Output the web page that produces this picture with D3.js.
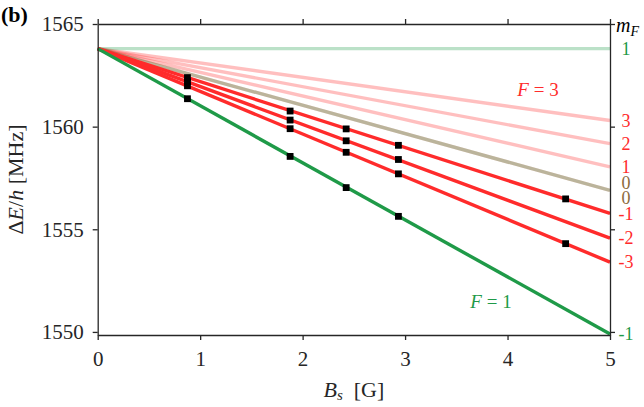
<!DOCTYPE html>
<html>
<head>
<meta charset="utf-8">
<script src="https://cdn.jsdelivr.net/npm/d3@7"></script>
<style>
  html, body { margin: 0; padding: 0; background: #fff; }
  svg { display: block; font-family: "Liberation Serif", "DejaVu Serif", serif; }
</style>
</head>
<body>
<div id="chart"></div>
<script>
// --- data ---
const xTicks = [0, 1, 2, 3, 4, 5];
const yTicks = [1550, 1555, 1560, 1565];

// Zeeman lines: all start at the zero-field splitting, straight to B = 5 G
const lineStartE = 1563.8;
const lineB = [0, 5];
const lineF = [3, 3, 3, 3, 1, 1, 3, 3, 3, 1];
const lineMF = ["3", "2", "1", "0", "1", "0", "-1", "-2", "-3", "-1"];
const lineEndE = [1560.3, 1559.17, 1558.04, 1556.9, 1563.8, 1556.9, 1555.77, 1554.57, 1553.4, 1549.9];
const lineFaint = [true, true, true, true, true, true, false, false, false, false];
const labelShift = [0, 0, 0, -7.5, 0, 7.5, 0, 0, 0, 0]; // the two overlapping 0 labels

// measured transitions (black squares)
const pointB = [0.876, 0.876, 0.876, 0.876, 1.878, 1.878, 1.878, 1.878,
                2.425, 2.425, 2.425, 2.425, 2.935, 2.935, 2.935, 2.935, 4.567, 4.567];
const pointE = [1562.39, 1562.19, 1561.99, 1561.36, 1560.76, 1560.32, 1559.9, 1558.55,
                1559.89, 1559.31, 1558.75, 1557.03, 1559.09, 1558.4, 1557.7, 1555.63, 1556.48, 1554.3];

// --- colours ---
const RED = "#ff2b2b";
const GREEN = "#1f9a48";
const BROWN = "#8c6a3c";
const AXIS = "#262626";

const W = 644, H = 407;
const mLeft = 97.7, mRight = 610, mTop = 24, mBottom = 335;

const x = d3.scaleLinear().domain([0, 5]).range([mLeft, mRight]);
const y = d3.scaleLinear().domain([1549.85, 1565]).range([mBottom, mTop]);

const svg = d3.select("#chart").append("svg")
  .attr("width", W).attr("height", H)
  .attr("viewBox", `0 0 ${W} ${H}`);

// --- lines ---
const lines = lineF.map((F, i) => ({
  F, mF: lineMF[i], faint: lineFaint[i], shift: labelShift[i],
  pts: [[lineB[0], lineStartE], [lineB[1], lineEndE[i]]]
}));
const lineGen = d3.line().x(d => x(d[0])).y(d => y(d[1]));

// faint red first, faint green over it (gives the tan overlap at mF = 0), then solid ones
const drawOrder = lines.filter(d => d.faint && d.F === 3)
  .concat(lines.filter(d => d.faint && d.F === 1))
  .concat(lines.filter(d => !d.faint));

svg.append("g")
  .selectAll("path")
  .data(drawOrder)
  .enter()
  .append("path")
  .attr("d", d => lineGen(d.pts))
  .attr("fill", "none")
  .attr("stroke", d => d.F === 3 ? RED : GREEN)
  .attr("stroke-opacity", d => d.faint ? 0.3 : 1)
  .attr("stroke-width", 3.4);

// --- measured points ---
const pts = pointB.map((b, i) => [b, pointE[i]]);
svg.append("g")
  .selectAll("rect")
  .data(pts)
  .enter()
  .append("rect")
  .attr("x", d => x(d[0]) - 3.4)
  .attr("y", d => y(d[1]) - 3.4)
  .attr("width", 6.8)
  .attr("height", 6.8)
  .attr("fill", "#000");

// --- axes (ticks out on all four sides) ---
const styleAxis = g => {
  g.select(".domain").attr("stroke", AXIS).attr("stroke-width", 1.3);
  g.selectAll(".tick line").attr("stroke", AXIS).attr("stroke-width", 1.3);
  g.selectAll(".tick text").attr("fill", AXIS).attr("font-size", 21)
    .attr("font-family", "Liberation Serif, serif");
};

svg.append("g")
  .attr("transform", `translate(0,${mBottom})`)
  .call(d3.axisBottom(x).tickValues(xTicks).tickFormat(d3.format("d")).tickSize(5).tickSizeOuter(0).tickPadding(11))
  .call(styleAxis);

svg.append("g")
  .attr("transform", `translate(0,${mTop})`)
  .call(d3.axisTop(x).tickValues(xTicks).tickFormat("").tickSize(5).tickSizeOuter(0))
  .call(styleAxis);

svg.append("g")
  .attr("transform", `translate(${mLeft},0)`)
  .call(d3.axisLeft(y).tickValues(yTicks).tickFormat(d3.format("d")).tickSize(5).tickSizeOuter(0).tickPadding(9))
  .call(styleAxis);

svg.append("g")
  .attr("transform", `translate(${mRight},0)`)
  .call(d3.axisRight(y).tickValues(yTicks).tickFormat("").tickSize(5).tickSizeOuter(0))
  .call(styleAxis);

// --- m_F labels at the right edge ---
const labelColor = d => d.mF === "0" ? BROWN : (d.F === 3 ? RED : GREEN);
svg.append("g")
  .selectAll("text")
  .data(lines)
  .enter()
  .append("text")
  .attr("x", mRight + 16)
  .attr("y", d => y(d.pts[1][1]) + d.shift)
  .attr("dy", "0.35em")
  .attr("text-anchor", "middle")
  .attr("font-size", 18)
  .attr("fill", labelColor)
  .text(d => d.mF);

const mf = svg.append("text")
  .attr("x", mRight + 6)
  .attr("y", 32)
  .attr("font-size", 20)
  .attr("fill", "#000");
mf.append("tspan").attr("font-style", "italic").text("m");
mf.append("tspan").attr("font-style", "italic").attr("font-size", 14).attr("dy", 4).text("F");

// --- F labels ---
const fLab = (txt, colour, cx, cy) => {
  const t = svg.append("text")
    .attr("x", cx).attr("y", cy)
    .attr("text-anchor", "middle")
    .attr("font-size", 19)
    .attr("fill", colour);
  t.append("tspan").attr("font-style", "italic").text("F");
  t.append("tspan").text(" = " + txt);
};
fLab("3", RED, 538, 96);
fLab("1", GREEN, 491, 308);

// --- axis titles ---
const xt = svg.append("text")
  .attr("x", (mLeft + mRight) / 2)
  .attr("y", 397)
  .attr("text-anchor", "middle")
  .attr("font-size", 22)
  .attr("fill", AXIS);
xt.append("tspan").attr("font-style", "italic").text("B");
xt.append("tspan").attr("font-style", "italic").attr("font-size", 15).attr("dy", 3).text("s");
xt.append("tspan").attr("dy", -3).text("\u2002[G]");

const yt = svg.append("text")
  .attr("transform", `translate(23,${(mTop + mBottom) / 2}) rotate(-90)`)
  .attr("text-anchor", "middle")
  .attr("font-size", 22)
  .attr("fill", AXIS);
yt.append("tspan").text("Δ");
yt.append("tspan").attr("font-style", "italic").text("E");
yt.append("tspan").text("/");
yt.append("tspan").attr("font-style", "italic").text("h");
yt.append("tspan").text(" [MHz]");

// panel tag
svg.append("text")
  .attr("x", 1).attr("y", 22)
  .attr("font-size", 22)
  .attr("font-weight", "bold")
  .attr("fill", "#000")
  .text("(b)");
</script>
</body>
</html>
